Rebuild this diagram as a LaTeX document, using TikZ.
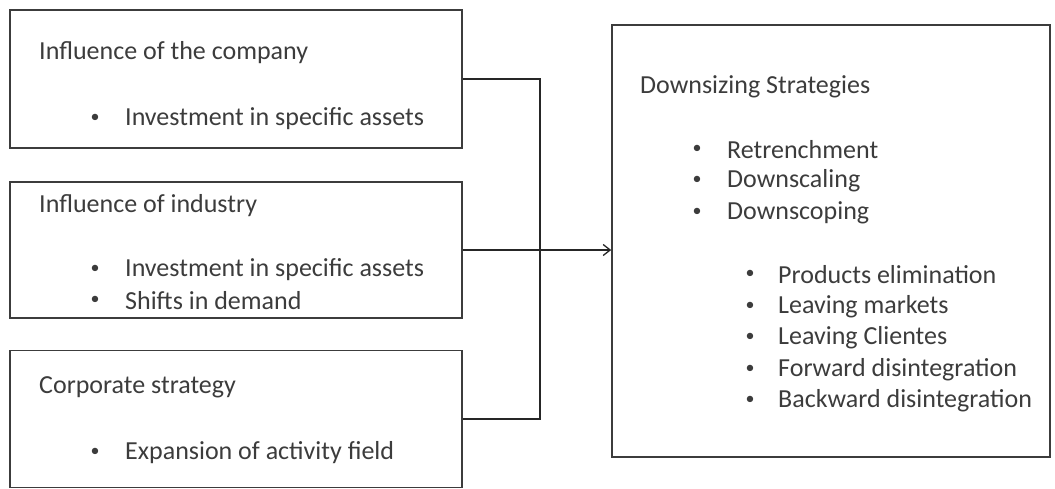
\documentclass[tikz,border=0pt]{standalone}
\usepackage{fontspec}
\setmainfont{Carlito}
\usetikzlibrary{arrows.meta}
\definecolor{txt}{RGB}{60,60,60}
\definecolor{edge}{RGB}{60,60,60}
\begin{document}
\begin{tikzpicture}[x=1pt,y=-1pt,
  box/.style={draw=edge,line width=1.6pt,minimum width=#1,inner sep=0pt},
  lbl/.style={anchor=west,text=txt,inner sep=0pt,yshift=-1.5pt,font=\fontsize{26}{30}\selectfont},
  bul/.style={anchor=center,text=txt,inner sep=0pt,yshift=-2pt,font=\fontsize{18}{20}\selectfont},
  conn/.style={draw=black!85,line width=1.3pt}]
\useasboundingbox (0,0) rectangle (1055,488);
% boxes
\node[box=452pt,minimum height=138pt] (b1) at (236,79) {};
\node[box=452pt,minimum height=136pt] (b2) at (236,250) {};
\node[box=452pt,minimum height=137pt] (b3) at (236,419) {};
\node[box=438pt,minimum height=432pt] (r) at (831,241) {};
% texts box 1
\node[lbl] (t1) at (39,51) {Influence of the company};
\node[bul] (t1b) at (95,116) {•};
\node[lbl] (t1a) at (125,117) {Investment in specific assets};
% box 2
\node[lbl] (t2) at (39,204) {Influence of industry};
\node[bul] (t2b1) at (95,267) {•};
\node[lbl] (t2a) at (125,268) {Investment in specific assets};
\node[bul] (t2b2) at (95,298) {•};
\node[lbl] (t2c) at (125,299) {Shifts in demand};
% box 3
\node[lbl] (t3) at (39,386) {Corporate strategy};
\node[bul] (t3b) at (95,450) {•};
\node[lbl] (t3a) at (125,451) {Expansion of activity field};
% right box
\node[lbl] (rt) at (640,85) {Downsizing Strategies};
\foreach \y/\t [count=\i] in {147/Retrenchment,178/Downscaling,210/Downscoping}{
  \node[bul] (rb\i) at (697,\y) {•};
  \node[lbl] (rl\i) at (727,\y+1) {\t};
}
\foreach \y/\t [count=\i] in {272/Products elimination,304/Leaving markets,335/Leaving Clientes,367/Forward disintegration,398/Backward disintegration}{
  \node[bul] (sb\i) at (750,\y) {•};
  \node[lbl] (sl\i) at (778,\y+1) {\t};
}
% connectors
\coordinate (j1) at (540,79);
\coordinate (j3) at (540,419);
\draw[conn] (b1.east) -- (j1) -- (j3) -- (b3.east);
\draw[conn,-{Straight Barb[length=7pt,width=11pt,line width=1.3pt]}] (b2.east) -- (b2.east -| r.west);
\end{tikzpicture}
\end{document}
